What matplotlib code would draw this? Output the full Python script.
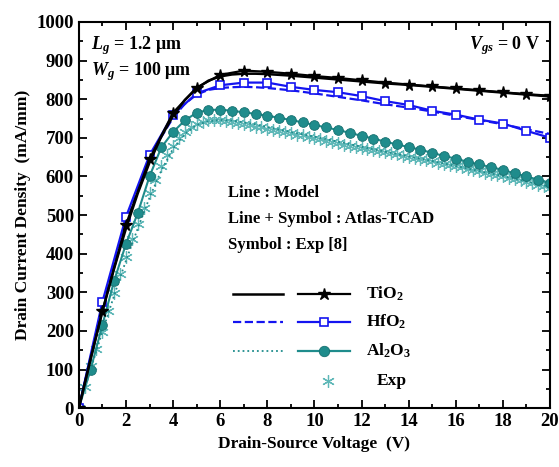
import numpy as np
import matplotlib
matplotlib.use("Agg")
import matplotlib.pyplot as plt

plt.rcParams['font.family'] = ['Liberation Serif', 'DejaVu Serif']
plt.rcParams['font.weight'] = 'bold'
plt.rcParams['mathtext.fontset'] = 'custom'
plt.rcParams['mathtext.rm'] = 'Liberation Serif:bold'
plt.rcParams['mathtext.it'] = 'Liberation Serif:bold:italic'
plt.rcParams['mathtext.bf'] = 'Liberation Serif:bold'

# model curves (0.5 V steps)
v_model = [0, 0.5, 1, 1.5, 2, 2.5, 3, 3.5, 4, 4.5, 5, 5.5, 6, 6.5, 7, 7.5, 8, 9, 10,
           11, 12, 13, 14, 15, 16, 17, 18, 19, 20]
tio2_model = [0, 128, 250, 362, 465, 556, 636, 703, 757, 798, 828, 848, 859, 864, 866, 866,
              865, 861, 856, 851, 846, 841, 837, 832, 827, 822, 817, 812, 807]
hfo2_model = [0, 132, 258, 372, 475, 565, 640, 702, 752, 788, 812, 824, 829, 831, 832, 831,
              829, 823, 815, 806, 797, 787, 778, 768, 757, 746, 735, 722, 710]
al2o3_model = [0, 100, 198, 292, 382, 465, 545, 615, 672, 710, 733, 743, 746, 745, 740, 735,
               728, 715, 703, 690, 677, 664, 652, 640, 627, 614, 601, 587, 573]

# Atlas-TCAD (1 V steps for TiO2 / HfO2)
v_atlas = list(range(0, 21))
tio2_atlas = [0, 252, 475, 645, 765, 830, 863, 874, 871, 866, 860, 855, 849, 843, 838, 833,
              828, 823, 818, 813, 809]
hfo2_atlas = [0, 275, 495, 655, 760, 815, 836, 843, 843, 832, 824, 818, 808, 795, 785, 770,
              760, 747, 737, 718, 700]

# Al2O3 Atlas (0.5 V steps)
v_al = [i * 0.5 for i in range(41)]
al2o3_atlas = [0, 100, 215, 330, 425, 505, 600, 675, 715, 745, 765, 772, 773, 770, 766, 762,
               757, 752, 746, 740, 733, 727, 720, 713, 705, 698, 690, 683, 676, 669, 661, 653,
               646, 638, 631, 624, 617, 608, 600, 591, 583]

# experimental (0.25 V steps)
v_exp = [i * 0.25 for i in range(81)]
exp_data = [0, 55, 108, 152, 198, 252, 298, 348, 392, 438, 478, 518, 556, 592, 626, 655,
            680, 700, 716, 728, 737, 742, 745, 747, 745, 744, 740, 738, 735, 733, 729, 727,
            724, 720, 718, 716, 712, 708, 706, 703, 700, 698, 693, 690, 686, 682, 679, 676,
            674, 672, 669, 666, 663, 660, 657, 654, 651, 648, 645, 642, 639, 636, 633, 630,
            627, 624, 620, 617, 614, 610, 607, 604, 600, 597, 593, 590, 586, 582, 578, 574, 570]

black = 'black'
blue = '#1414f0'
teal = '#1f8c8c'
light_teal = '#5fb8b8'

fig = plt.figure(figsize=(5.59, 4.67), dpi=100)
ax = fig.add_axes([0.141, 0.126, 0.843, 0.827])

ax.plot(v_exp, exp_data, ls='none', marker=(6, 2, 0), ms=9, mew=0.9, color=light_teal)
ax.plot(v_model, al2o3_model, ls=':', lw=1.3, color=teal)
ax.plot(v_al, al2o3_atlas, '-', lw=1.5, color=teal, marker='o', ms=7,
        mfc=teal, mec='#167070', mew=0.6)
ax.plot(v_model, hfo2_model, '--', lw=1.6, color=blue)
ax.plot(v_atlas, hfo2_atlas, '-', lw=1.6, color=blue, marker='s', ms=5.5,
        mfc='white', mec=blue, mew=1.2)
ax.plot(v_model, tio2_model, '-', lw=1.8, color=black)
ax.plot(v_atlas, tio2_atlas, '-', lw=1.6, color=black, marker='*', ms=8.5)

ax.set_xlim(0, 20)
ax.set_ylim(0, 1000)
ax.set_xticks(np.arange(0, 21, 2))
ax.set_xticks(np.arange(0, 21, 1), minor=True)
ax.set_yticks(np.arange(0, 1001, 100))
ax.set_yticks(np.arange(0, 1001, 50), minor=True)
ax.tick_params(which='both', direction='in', top=True, right=True, labelsize=13.5, width=1.3)
ax.tick_params(which='major', length=6)
ax.tick_params(which='minor', length=3)
for s in ax.spines.values():
    s.set_linewidth(1.5)

ax.set_xlabel('Drain-Source Voltage  (V)', fontsize=12.5, fontweight='bold', labelpad=4)
ax.set_ylabel('Drain Current Density  (mA/mm)', fontsize=12.5, fontweight='bold', labelpad=4)

ax.text(0.025, 0.94, r'$L_g$ = 1.2 μm', transform=ax.transAxes, fontsize=13, va='center')
ax.text(0.025, 0.872, r'$W_g$ = 100 μm', transform=ax.transAxes, fontsize=13, va='center')
ax.text(0.98, 0.94, r'$V_{gs}$ = 0 V', transform=ax.transAxes, fontsize=13, va='center', ha='right')

ax.text(0.316, 0.557, 'Line : Model', transform=ax.transAxes, fontsize=12, va='center')
ax.text(0.316, 0.49, 'Line + Symbol : Atlas-TCAD', transform=ax.transAxes, fontsize=12, va='center')
ax.text(0.316, 0.422, 'Symbol : Exp [8]', transform=ax.transAxes, fontsize=12, va='center')

# hand-made legend
rows = [
    (0.295, dict(ls='-', lw=1.8, color=black), dict(marker='*', ms=9, color=black, mfc=black, mec=black), black, 'TiO$_2$'),
    (0.223, dict(ls='--', lw=1.6, color=blue), dict(marker='s', ms=6, color=blue, mfc='white', mec=blue, mew=1.2), blue, 'HfO$_2$'),
    (0.148, dict(ls=':', lw=1.3, color=teal), dict(marker='o', ms=7.5, color=teal, mfc=teal, mec='#167070', mew=0.6), teal, 'Al$_2$O$_3$'),
]
for y, mstyle, sstyle, c, lab in rows:
    ax.plot([0.327, 0.433], [y, y], transform=ax.transAxes, clip_on=False, **mstyle)
    ax.plot([0.465, 0.575], [y, y], transform=ax.transAxes, ls='-', lw=1.6, color=c, clip_on=False)
    ax.plot([0.52], [y], transform=ax.transAxes, ls='none', clip_on=False, **sstyle)
    ax.text(0.609, y, lab, transform=ax.transAxes, fontsize=12.5, va='center')
ax.plot([0.529], [0.07], transform=ax.transAxes, ls='none', marker=(6, 2, 0), ms=9,
        mew=0.9, color=light_teal)
ax.text(0.633, 0.07, 'Exp', transform=ax.transAxes, fontsize=12.5, va='center')

fig.savefig('out.png', dpi=100)
